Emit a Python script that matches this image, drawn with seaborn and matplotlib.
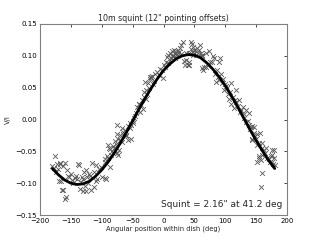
import numpy as np
import pandas as pd
import seaborn as sns
import matplotlib
matplotlib.use("Agg")
import matplotlib.pyplot as plt

# fitted curve (every 10 deg)
curve_x = [-180, -170, -160, -150, -140, -130, -120, -110, -100, -90, -80, -70, -60,
           -50, -40, -30, -20, -10, 0, 10, 20, 30, 40, 50, 60, 70, 80, 90, 100, 110,
           120, 130, 140, 150, 160, 170, 180]
curve_y = [-0.077, -0.087, -0.095, -0.100, -0.102, -0.101, -0.097, -0.089, -0.079, -0.067,
           -0.053, -0.037, -0.020, -0.002, 0.016, 0.033, 0.049, 0.064, 0.077, 0.087, 0.095,
           0.100, 0.102, 0.101, 0.097, 0.089, 0.079, 0.067, 0.053, 0.037, 0.020, 0.002,
           -0.016, -0.033, -0.049, -0.064, -0.077]

# measured points (crosses)
pts_x = [-180, -178, -176, -174, -172, -171, -170, -168, -167, -166, -165, -163, -162, -160,
         -159, -158, -157, -155, -153, -150, -148, -146, -144, -142, -140, -138, -137, -136,
         -134, -132, -130, -130, -129, -127, -125, -125, -124, -122, -120, -119, -117, -115,
         -113, -112, -110, -109, -107, -105, -102, -99, -95, -94, -93,
         -95, -92, -90, -90, -89, -87, -86, -85, -83, -82, -82, -80, -78, -77, -76, -76, -75,
         -74, -73, -72, -71, -70, -68, -67, -66, -65, -63, -61, -60, -58, -57, -55, -54, -53,
         -52, -50, -49, -48, -46, -44, -43, -42, -40, -39, -38, -36, -35, -33, -32, -31, -30,
         -28, -28, -27, -25, -24, -22, -22, -20, -19, -17, -15, -13, -10, -8, -5, -3, -1, 0,
         2, 4, 5, 7, 8, 10, 11, 12, 13, 14, 15, 16, 17, 18, 19, 20, 21, 22, 23, 24, 25, 27,
         28, 29, 31, 33, 35, 36, 37, 39, 41, 42, 42, 44, 45, 46, 47, 47, 48, 50, 52, 53, 55,
         56, 58, 59, 60, 62, 63, 63, 64, 66, 68, 69, 72, 74, 76, 78, 80, 82, 84, 85, 86, 88,
         90, 90, 91, 93, 95, 96, 98, 100, 101, 103, 105, 106, 108, 109, 110, 112, 114, 115,
         117, 118, 120, 122, 124, 126, 128, 130, 131, 133, 134, 136, 138, 139, 140, 142, 143,
         144, 144, 146, 147, 148, 150, 151, 152, 152, 154, 155, 155, 157, 158, 158, 159, 160,
         160, 160, 162, 164, 166, 168, 170, 172, 174, 176, 176, 176, 178, 179, 179, 180]
pts_y = [-0.073, -0.076, -0.057, -0.083, -0.070, -0.078, -0.096, -0.068, -0.070, -0.096,
         -0.110, -0.073, -0.110, -0.068, -0.125, -0.122, -0.080, -0.088, -0.091, -0.085,
         -0.095, -0.100, -0.092, -0.089, -0.094, -0.070, -0.071, -0.109, -0.098, -0.090,
         -0.112, -0.094, -0.082, -0.104, -0.080, -0.112, -0.090, -0.100, -0.085, -0.088,
         -0.110, -0.068, -0.106, -0.083, -0.096, -0.071, -0.094, -0.078, -0.075, -0.091,
         -0.092, -0.066, -0.094,
         -0.062, -0.058, -0.061, -0.040, -0.044, -0.074, -0.047, -0.056, -0.050, -0.042,
         -0.053, -0.045, -0.033, -0.038, -0.053, -0.022, -0.009, -0.056, -0.030, -0.048,
         -0.032, -0.025, -0.014, -0.035, -0.019, -0.022, -0.016, -0.026, -0.024, -0.032,
         -0.010, -0.014, -0.005, -0.030, -0.009, -0.003, -0.006, 0.002, 0.005, 0.010, 0.020,
         0.015, 0.024, 0.025, 0.012, 0.023, 0.030, 0.016, 0.044, 0.036, 0.059, 0.046, 0.032,
         0.040, 0.057, 0.050, 0.063, 0.067, 0.066, 0.068, 0.056, 0.060, 0.072, 0.075, 0.070,
         0.080, 0.078, 0.065, 0.085, 0.083, 0.090, 0.098, 0.088, 0.101, 0.093, 0.104, 0.097,
         0.099, 0.107, 0.101, 0.100, 0.109, 0.105, 0.096, 0.104, 0.102, 0.107, 0.109, 0.101,
         0.106, 0.112, 0.117, 0.103, 0.122, 0.092, 0.086, 0.093, 0.104, 0.085, 0.086, 0.090,
         0.104, 0.121, 0.110, 0.118, 0.114, 0.102, 0.106, 0.109, 0.107, 0.101, 0.112, 0.104,
         0.109, 0.117, 0.104, 0.100, 0.101, 0.081, 0.078, 0.083, 0.083, 0.104, 0.086, 0.107,
         0.090, 0.091, 0.099, 0.096, 0.072, 0.059, 0.077, 0.067, 0.062, 0.091, 0.096, 0.072,
         0.058, 0.064, 0.046, 0.055, 0.052, 0.050, 0.040, 0.033, 0.044, 0.057, 0.024, 0.035,
         0.018, 0.030, 0.047, 0.028, 0.022, 0.031, 0.012, 0.015, 0.020, 0.002, 0.008, 0.015,
         -0.004, -0.003, 0.010, -0.008, -0.015, -0.011, -0.010, -0.030, -0.032, -0.021,
         -0.012, -0.026, -0.030, -0.040, -0.022, -0.066, -0.037, -0.058, -0.061, -0.021,
         -0.064, -0.106, -0.084, -0.037, -0.045, -0.056, -0.048, -0.052, -0.045, -0.060,
         -0.062, -0.066, -0.058, -0.048, -0.056, -0.066, -0.070, -0.061, -0.048, -0.072]

title = '10m squint (12" pointing offsets)'
note = 'Squint = 2.16" at 41.2 deg'

sns.set_style("white")
plt.rcParams['font.family'] = ['DejaVu Sans']

fig, ax = plt.subplots(figsize=(3.2, 2.4), dpi=100)
fig.subplots_adjust(left=0.125, right=0.897, bottom=0.104, top=0.9)

pts = pd.DataFrame({'angle': pts_x, 'vi': pts_y})
sns.scatterplot(data=pts, x='angle', y='vi', marker='x', color='0.35', s=12,
                linewidth=0.6, ax=ax, zorder=2)
sns.lineplot(x=curve_x, y=curve_y, color='k', lw=2.0, ax=ax, zorder=3)

ax.set_xlim(-200, 200)
ax.set_ylim(-0.15, 0.15)
ax.set_xticks(np.arange(-200, 201, 50))
ax.set_yticks([-0.15, -0.10, -0.05, 0.0, 0.05, 0.10, 0.15])
ax.set_yticklabels(['\u22120.15', '\u22120.10', '\u22120.05', '0.00', '0.05', '0.10', '0.15'])
ax.set_xticklabels(['\u2212200', '\u2212150', '\u2212100', '\u221250', '0', '50', '100', '150', '200'])
ax.tick_params(direction='in', length=2.5, width=0.5, top=True, right=True,
               labelsize=5, pad=2, colors='k')
for s in ax.spines.values():
    s.set_color('0.5')
    s.set_linewidth(0.8)

ax.set_title(title, fontsize=5.7, pad=2)
ax.set_xlabel('Angular position within dish (deg)', fontsize=4.9, labelpad=1)
ax.set_ylabel('V/I', fontsize=4.9, labelpad=3)
ax.text(0.98, 0.03, note, transform=ax.transAxes, ha='right', va='bottom', fontsize=6.5)

fig.savefig('out.png', dpi=100)
